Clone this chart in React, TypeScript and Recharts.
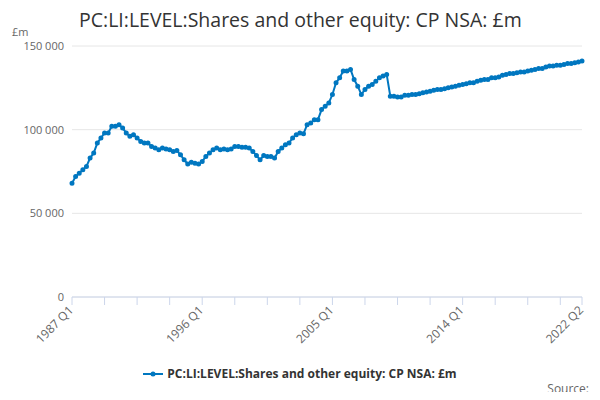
import React from 'react';
import { LineChart, Line, XAxis, YAxis, CartesianGrid } from 'recharts';

const years = Array.from({ length: 36 }, (_, i) => 1987 + i);
const values: number[] = [
  68,72,74,76, 78,83,86,92, 95,98,98,102, 102,103,101,98, 96,97,95,93,
  92,92,90,89, 88,89,88.5,88, 87,87.5,85,82, 79.5,80.5,80,79.5, 81,84,86,88,
  89,88,88.5,88, 88.5,90,90,89.5, 89.5,89,87,84.5, 82,84.5,84,84, 83,87,89,91,
  92,95,97,98, 97.5,103,104,106, 106,112,114,116, 121,128,131,135, 135,136,130,126,
  121,124,126,127, 129,131,132,133, 120,120,119.5,119.5, 120.5,120.5,121,121, 121.5,122,122.5,123,
  123.5,124,124,124.5, 125,125.5,126,126.5, 127,127.5,128,128, 129,129.5,130,130, 131,131,131.5,132.5,
  133,133.5,133.5,134, 134.5,134.5,135,135.5, 136,136.5,136.5,137.5, 138,138,138.5,138.5, 139,139.5,139.5,140,
  140.5,141,
].map(v => v * 1000);
const labels = values.map((_, i) => `${years[Math.floor(i / 4)]} Q${(i % 4) + 1}`);
const data = values.map((v, i) => ({ name: labels[i], v }));
const tickIdx = [0, 9, 18, 27, 36, 45, 54, 63, 72, 81, 90, 99, 108, 117, 126, 135, 141];
const labeledIdx = [0, 36, 72, 108, 141];
const yTicks = [0, 50000, 100000, 150000];
const fmt = (v: number) => v === 0 ? '0' : v.toLocaleString('en-US').replace(/,/g, ' ');

const XTick = (p: any) => {
  const { x, y, payload } = p;
  const idx = labels.indexOf(payload.value);
  const ty = y - 8;
  return (
    <g>
      <line x1={x} y1={ty} x2={x} y2={ty + 8} stroke="#ccd6eb" />
      {labeledIdx.includes(idx) && (
        <text x={x + 2} y={ty + 14} textAnchor="end" fill="#666" fontSize={12} transform={`rotate(-45 ${x + 2} ${ty + 14})`}>
          {payload.value}
        </text>
      )}
    </g>
  );
};

export default function App() {
  return (
    <div style={{ position: 'relative', width: 600, height: 400, fontFamily: '"Open Sans", sans-serif', margin: -8, overflow: 'hidden' }}>
      <div style={{ position: 'absolute', left: 79, top: 6, fontSize: 19.5, color: '#333' }}>
        PC:LI:LEVEL:Shares and other equity: CP NSA: £m
      </div>
      <div style={{ position: 'absolute', left: 12, top: 24, fontSize: 11, color: '#666' }}>£m</div>
      <LineChart width={600} height={400} data={data} margin={{ top: 46, right: 18, bottom: 73, left: 12 }}>
        <CartesianGrid vertical={false} stroke="#e6e6e6" />
        <XAxis dataKey="name" ticks={tickIdx.map(i => labels[i])} interval={0} tick={<XTick />}
          stroke="#ccd6eb" tickLine={false} height={30} padding={{ left: 0, right: 0 }} />
        <YAxis domain={[0, 150000]} ticks={yTicks} tickFormatter={fmt} axisLine={false} tickLine={false}
          width={60} tick={{ fill: '#666', fontSize: 11 }} />
        <Line dataKey="v" stroke="#0077c0" strokeWidth={2} isAnimationActive={false}
          dot={{ r: 1.5, fill: '#0077c0', stroke: '#0077c0' }} />
      </LineChart>
      <div style={{ position: 'absolute', top: 365, left: 0, width: 600, display: 'flex', justifyContent: 'center', alignItems: 'center', fontSize: 12, fontWeight: 'bold', color: '#333' }}>
        <svg width={20} height={10} style={{ marginRight: 4 }}>
          <line x1={0} y1={5} x2={20} y2={5} stroke="#0077c0" strokeWidth={2} />
          <circle cx={10} cy={5} r={2.5} fill="#0077c0" />
        </svg>
        PC:LI:LEVEL:Shares and other equity: CP NSA: £m
      </div>
      <div style={{ position: 'absolute', right: 11, top: 380, fontSize: 12, color: '#666' }}>Source:</div>
    </div>
  );
}
